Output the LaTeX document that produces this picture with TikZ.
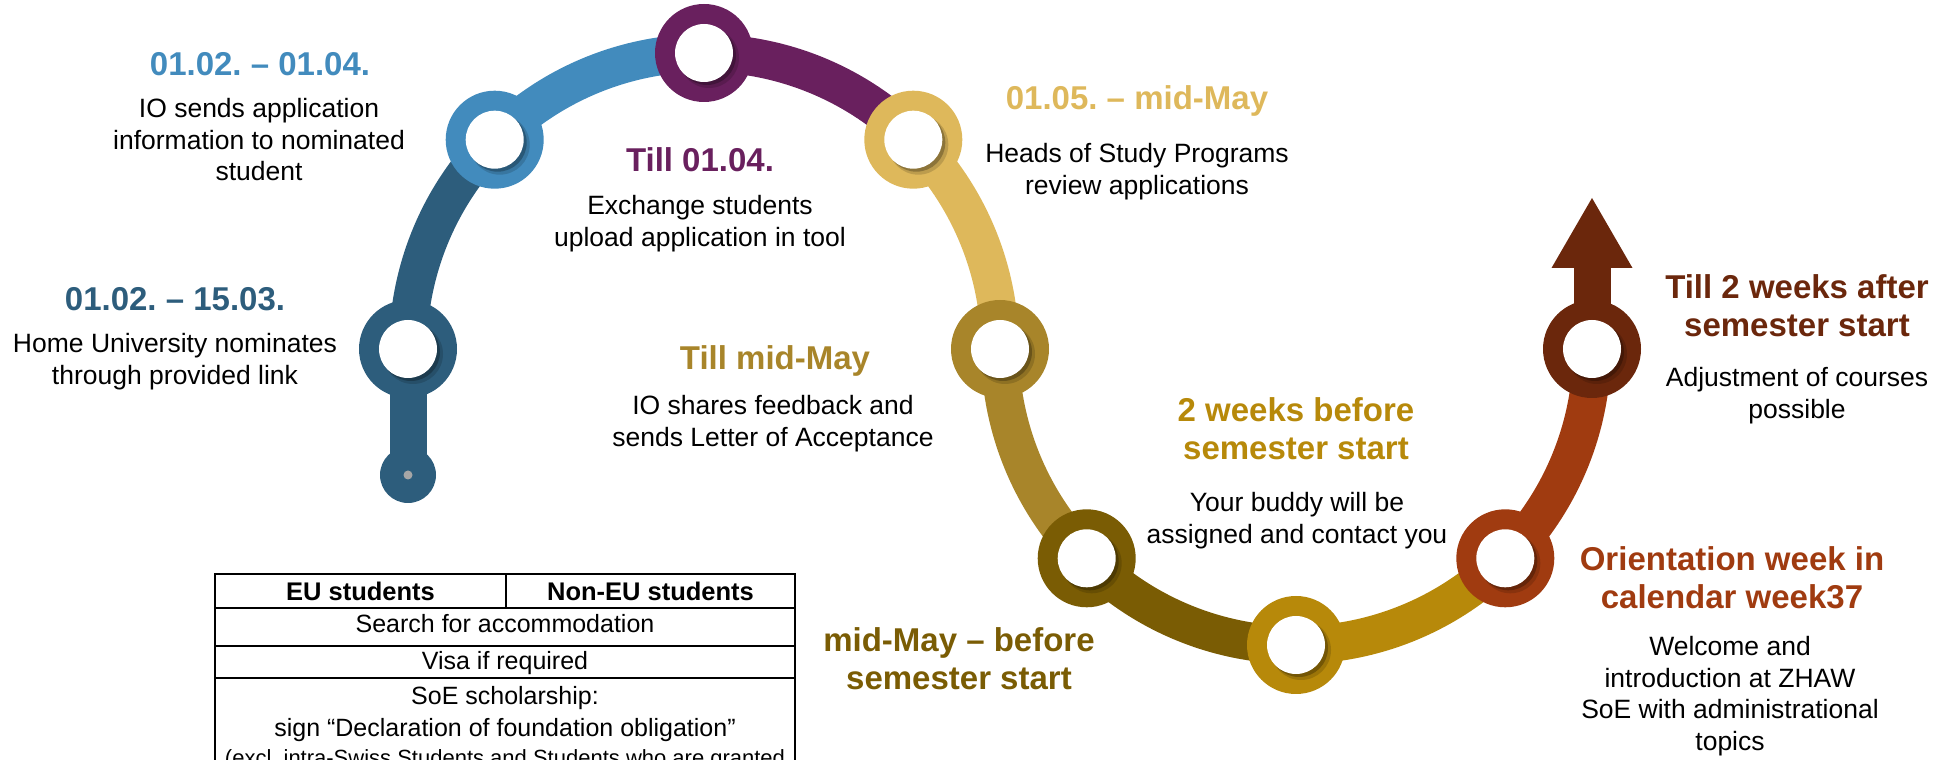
\documentclass[tikz,border=0pt]{standalone}
\usepackage{fontspec}
\setmainfont{Liberation Sans}
\frenchspacing
\definecolor{cA}{HTML}{2D5D7C}
\definecolor{cB}{HTML}{428BBD}
\definecolor{cC}{HTML}{69205E}
\definecolor{cD}{HTML}{DEB85B}
\definecolor{cE}{HTML}{A8852A}
\definecolor{cF}{HTML}{7A5C04}
\definecolor{cG}{HTML}{B7890A}
\definecolor{cH}{HTML}{A03B10}
\definecolor{cI}{HTML}{6B270C}
\definecolor{dotgray}{HTML}{A6A6A6}
\tikzset{
  headtext/.style={font=\fontsize{33}{38}\selectfont\bfseries, align=center, anchor=base, inner sep=0pt},
  bodytext/.style={font=\fontsize{26.5}{31.5}\selectfont, align=center, anchor=base, inner sep=0pt, text=black},
  tabtext/.style={font=\fontsize{25}{30}\selectfont, anchor=base, inner sep=0pt},
  tabhead/.style={font=\fontsize{25.5}{30}\selectfont\bfseries, anchor=base, inner sep=0pt},
  tabline/.style={line width=2pt, black},
  track/.style={line width=38pt},
}
\newcommand{\tlring}[2]{%
  \fill[#2] (#1) circle[radius=49pt];
  \fill[black, opacity=0.15] ([shift={(5pt,-5pt)}]#1) circle[radius=30pt];
  \fill[black, opacity=0.25] ([shift={(3pt,-3pt)}]#1) circle[radius=29pt];
  \fill[white] (#1) circle[radius=29pt];
}
\begin{document}
\begin{tikzpicture}[x=1pt,y=1pt]
\useasboundingbox (0,0) rectangle (1952,760);
% ring positions
\coordinate (n0) at (408,285);
\coordinate (n1) at (408,411);
\coordinate (n2) at (494.70,620.30);
\coordinate (n3) at (704,707);
\coordinate (n4) at (913.30,620.30);
\coordinate (n5) at (1000,411);
\coordinate (n6) at (1086.70,201.70);
\coordinate (n7) at (1296,115);
\coordinate (n8) at (1505.30,201.70);
\coordinate (n9) at (1592,411);
\coordinate (ab) at (1592,492);
\coordinate (at) at (1592,562);
% track
\draw[line width=37pt, cA] (n1) -- (n0);
\fill[cA] (n0) circle[radius=28pt];
\fill[dotgray] (n0) circle[radius=4.5pt];
\draw[track, cA] (n1) arc[start angle=180, end angle=135, radius=296pt];
\draw[track, cB] (n2) arc[start angle=135, end angle=90, radius=296pt];
\draw[track, cC] (n3) arc[start angle=90, end angle=45, radius=296pt];
\draw[track, cD] (n4) arc[start angle=45, end angle=0, radius=296pt];
\draw[track, cE] (n5) arc[start angle=180, end angle=225, radius=296pt];
\draw[track, cF] (n6) arc[start angle=225, end angle=270, radius=296pt];
\draw[track, cG] (n7) arc[start angle=270, end angle=315, radius=296pt];
\draw[track, cH] (n8) arc[start angle=315, end angle=360, radius=296pt];
\draw[line width=37pt, cI] (n9) -- ([yshift=1pt]ab);
\fill[cI] ([xshift=-40.5pt]ab) -- ([xshift=40.5pt]ab) -- (at) -- cycle;
% rings
\tlring{n1}{cA}
\tlring{n2}{cB}
\tlring{n3}{cC}
\tlring{n4}{cD}
\tlring{n5}{cE}
\tlring{n6}{cF}
\tlring{n7}{cG}
\tlring{n8}{cH}
\tlring{n9}{cI}
% texts (multi-line nodes are anchored at the baseline of their last line)
\node[headtext, text=cB] (h2) at (260,684) {01.02. – 01.04.};
\node[bodytext] (b2) at (259,579) {IO sends application\\information to nominated\\student};
\node[headtext, text=cA] (h1) at (175,449) {01.02. – 15.03.};
\node[bodytext] (b1) at (175,375.5) {Home University nominates\\through provided link};
\node[headtext, text=cC] (h3) at (700,588) {Till 01.04.};
\node[bodytext] (b3) at (700,513.5) {Exchange students\\upload application in tool};
\node[headtext, text=cD] (h4) at (1137,650) {01.05. – mid-May};
\node[bodytext] (b4) at (1137,565.5) {Heads of Study Programs\\review applications};
\node[headtext, text=cE] (h5) at (775,390) {Till mid-May};
\node[bodytext] (b5) at (773,313.5) {IO shares feedback and\\sends Letter of Acceptance};
\node[headtext, text=cF] (h6) at (959,70) {mid-May – before\\semester start};
\node[headtext, text=cG] (h7) at (1296,300) {2 weeks before\\semester start};
\node[bodytext] (b7) at (1297,216.5) {Your buddy will be\\assigned and contact you};
\node[headtext, text=cH] (h8) at (1732,151) {Orientation week in\\calendar week37};
\node[bodytext] (b8) at (1730,9.5) {Welcome and\\introduction at ZHAW\\SoE with administrational\\topics};
\node[headtext, text=cI] (h9) at (1797,423) {Till 2 weeks after\\semester start};
\node[bodytext] (b9) at (1797,341.5) {Adjustment of courses\\possible};
% table
\draw[tabline] (215,-10) -- (215,186) -- (795,186) -- (795,-10);
\draw[tabline] (215,152) -- (795,152);
\draw[tabline] (215,114) -- (795,114);
\draw[tabline] (215,82) -- (795,82);
\draw[tabline] (506,186) -- (506,152);
\node[tabhead] (t1) at (360.5,159) {EU students};
\node[tabhead] (t2) at (650.5,159) {Non-EU students};
\node[tabtext] (t3) at (505,127) {Search for accommodation};
\node[tabtext] (t4) at (505,90) {Visa if required};
\node[tabtext] (t5) at (505,55) {SoE scholarship:};
\node[tabtext] (t6) at (505,23) {sign “Declaration of foundation obligation”};
\node[tabtext, font=\fontsize{22}{26}\selectfont] (t7) at (505,-6) {(excl. intra-Swiss Students and Students who are granted};
\end{tikzpicture}
\end{document}
